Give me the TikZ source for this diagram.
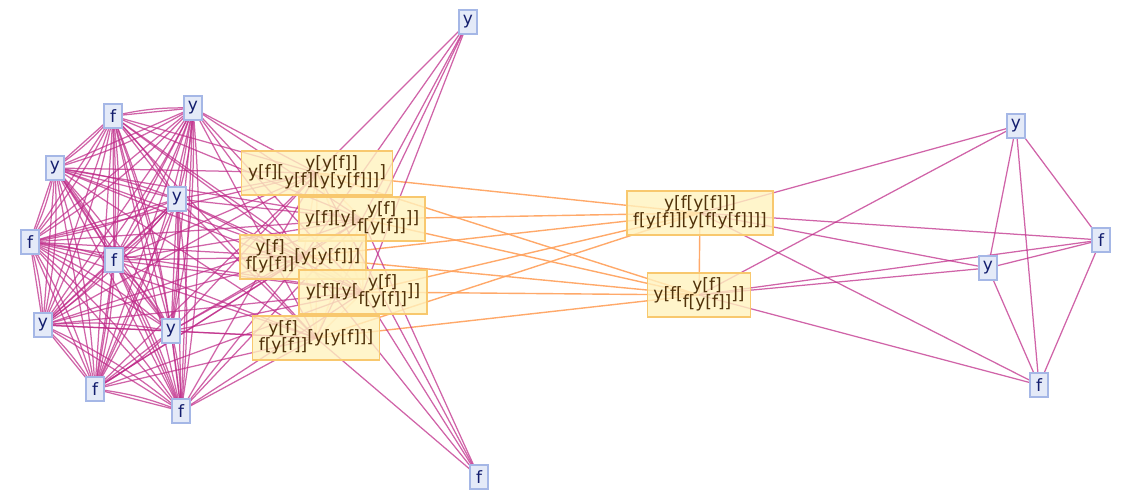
\documentclass[tikz,border=0pt]{standalone}
\usepackage{fontspec}
\setmainfont{DejaVu Sans}
\newcommand\stk[2]{\begin{tabular}{@{}c@{}}#1\\#2\end{tabular}}
\definecolor{mg}{RGB}{190,40,135}
\definecolor{org}{RGB}{255,160,90}
\definecolor{sfill}{RGB}{228,234,248}
\definecolor{sdraw}{RGB}{165,183,230}
\definecolor{stext}{RGB}{20,30,110}
\definecolor{ofill}{RGB}{255,242,190}
\definecolor{odraw}{RGB}{248,200,110}
\definecolor{otext}{RGB}{80,50,10}
\tikzset{
  sn/.style={draw=sdraw,fill=sfill,line width=1.2pt,text=stext,inner sep=0pt,minimum width=18pt,minimum height=24pt,font=\fontsize{17}{17}\selectfont},
  on/.style={draw=odraw,fill=ofill,fill opacity=0.8,text opacity=1,line width=1.2pt,text=otext,inner sep=2pt,minimum height=44pt,font=\fontsize{17}{16.5}\selectfont},
  me/.style={draw=mg,line width=1.25pt,opacity=0.72},
  oe/.style={draw=org,line width=1.4pt,opacity=0.9}
}
\begin{document}
\begin{tikzpicture}[x=1pt,y=-1pt]
\useasboundingbox (0,0) rectangle (1124,500);
% coordinates
\coordinate (L1) at (113,116);
\coordinate (L2) at (193,108);
\coordinate (L3) at (55,168);
\coordinate (L4) at (177,199);
\coordinate (L5) at (30,242);
\coordinate (L6) at (114,260);
\coordinate (L7) at (43,325);
\coordinate (L8) at (171,331);
\coordinate (L9) at (95,389);
\coordinate (L10) at (181,411);
\coordinate (O1) at (317,173);
\coordinate (O2) at (362,219);
\coordinate (O3) at (303,257);
\coordinate (O4) at (363,292);
\coordinate (O5) at (316,338);
\coordinate (G) at (700,213);
\coordinate (H) at (699,295);
\coordinate (TY) at (468,22);
\coordinate (BF) at (479,477);
\coordinate (R1) at (1016,126);
\coordinate (R2) at (1101,240);
\coordinate (R3) at (988,268);
\coordinate (R4) at (1039,385);
% orange edges
\foreach \a/\b in {O1/O2,O1/O3,O1/O4,O1/O5,O2/O3,O2/O4,O2/O5,O3/O4,O3/O5,O4/O5}
  \draw[oe,opacity=0.4] (\a) -- (\b);
\foreach \a in {O1,O2,O3,O4,O5}{
  \draw[oe] (\a) -- (G);
  \draw[oe] (\a) -- (H);
}
\draw[oe] (G) -- (H);
% magenta edges: left cluster
\foreach \i in {1,...,9}{
  \pgfmathtruncatemacro\k{\i+1}
  \foreach \j in {\k,...,10}{
    \draw[me] (L\i) -- (L\j);
    \draw[me] (L\i) to[bend left=7] (L\j);
  }
}
\foreach \i in {1,...,10}{
  \foreach \o in {O1,O2,O3,O4,O5}{
    \draw[me] (L\i) -- (\o);
  }
}
\foreach \o in {O1,O2,O3,O4,O5}{
  \draw[me] (TY) -- (\o);
  \draw[me] (BF) -- (\o);
}
\foreach \a/\b in {R1/R2,R1/R3,R1/R4,R2/R3,R2/R4,R3/R4,G/R1,G/R2,G/R3,G/R4,H/R1,H/R2,H/R3,H/R4}
  \draw[me] (\a) -- (\b);
% nodes
\node[sn] (n1) at (L1) {f};
\node[sn] (n2) at (L2) {y};
\node[sn] (n3) at (L3) {y};
\node[sn] (n4) at (L4) {y};
\node[sn] (n5) at (L5) {f};
\node[sn] (n6) at (L6) {f};
\node[sn] (n7) at (L7) {y};
\node[sn] (n8) at (L8) {y};
\node[sn] (n9) at (L9) {f};
\node[sn] (n10) at (L10) {f};
\node[sn] (nTY) at (TY) {y};
\node[sn] (nBF) at (BF) {f};
\node[sn] (nR1) at (R1) {y};
\node[sn] (nR2) at (R2) {f};
\node[sn] (nR3) at (R3) {y};
\node[sn] (nR4) at (R4) {f};
\node[on,minimum width=151pt] (nO1) at (O1) {y[f][\stk{y[y[f]]}{y[f][y[y[f]]]}]};
\node[on,minimum width=126pt] (nO2) at (O2) {y[f][y[\stk{y[f]}{f[y[f]]}]]};
\node[on,minimum width=126pt] (nO3) at (O3) {\stk{y[f]}{f[y[f]]}[y[y[f]]]};
\node[on,minimum width=128pt] (nO4) at (O4) {y[f][y[\stk{y[f]}{f[y[f]]}]]};
\node[on,minimum width=127pt] (nO5) at (O5) {\stk{y[f]}{f[y[f]]}[y[y[f]]]};
\node[on,minimum width=146pt] (nG) at (G) {\stk{y[f[y[f]]]}{f[y[f]][y[f[y[f]]]]}};
\node[on,minimum width=103pt] (nH) at (H) {y[f[\stk{y[f]}{f[y[f]]}]]};
\end{tikzpicture}
\end{document}
